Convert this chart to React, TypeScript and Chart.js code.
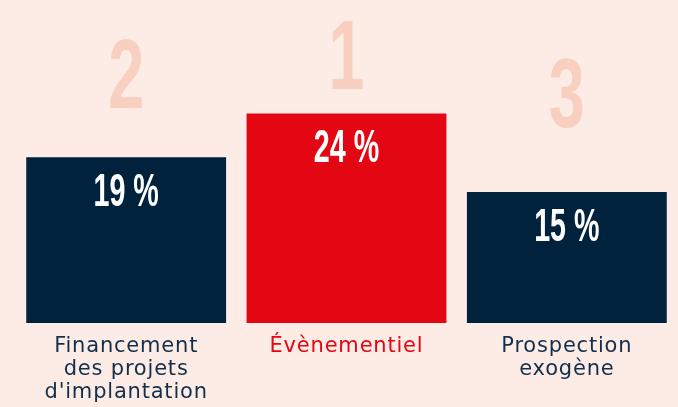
import React, { useEffect, useRef } from "react";
import { Chart, registerables } from "chart.js";

Chart.register(...registerables);

const categories: (string | string[])[] = [
  ["Financement", "des projets", "d'implantation"],
  "Évènementiel",
  ["Prospection", "exogène"],
];
const values: number[] = [19, 24, 15];
const ranks: number[] = [2, 1, 3];
const barColors: string[] = ["#00223c", "#e30613", "#00223c"];
const labelColors: string[] = ["#12304b", "#e30613", "#12304b"];

const BG = "#fdebe5";
const RANK_COLOR = "#f9cfbf";

const spacingPlugin = {
  id: "letterSpacing",
  beforeDraw(chart: any) {
    (chart.ctx as any).letterSpacing = "0.8px";
  },
  afterDraw(chart: any) {
    (chart.ctx as any).letterSpacing = "0px";
  },
};

const overlayPlugin = {
  id: "overlayLabels",
  afterDatasetsDraw(chart: any) {
    const { ctx, chartArea } = chart;
    const meta = chart.getDatasetMeta(0);
    meta.data.forEach((bar: any, i: number) => {
      ctx.save();
      (ctx as any).letterSpacing = "0px";
      ctx.translate(bar.x, bar.y + 48.5);
      ctx.scale(0.61, 1);
      ctx.font = "bold 47px 'Liberation Sans'";
      ctx.fillStyle = "#ffffff";
      ctx.textAlign = "center";
      ctx.textBaseline = "alphabetic";
      ctx.fillText(values[i] + " %", 0, 0);
      ctx.restore();

      ctx.save();
      (ctx as any).letterSpacing = "0px";
      ctx.translate(bar.x, chartArea.top + 89 + (ranks[i] - 1) * 19);
      ctx.scale(0.66, 1);
      ctx.font = "bold 98px 'Liberation Sans'";
      ctx.fillStyle = RANK_COLOR;
      ctx.textAlign = "center";
      ctx.textBaseline = "alphabetic";
      ctx.fillText(String(ranks[i]), 0, 0);
      ctx.restore();
    });
  },
};

export default function App() {
  const canvasRef = useRef<HTMLCanvasElement | null>(null);

  useEffect(() => {
    const canvas = canvasRef.current;
    if (!canvas) return;
    const chart = new Chart(canvas, {
      type: "bar",
      data: {
        labels: categories,
        datasets: [
          {
            data: values,
            backgroundColor: barColors,
            borderWidth: 0,
            barPercentage: 0.907,
            categoryPercentage: 1,
          },
        ],
      },
      options: {
        responsive: false,
        animation: false,
        events: [],
        layout: { padding: { left: 16, right: 1, top: 0, bottom: 2 } },
        plugins: {
          legend: { display: false },
          tooltip: { enabled: false },
        },
        scales: {
          x: {
            grid: { display: false, drawTicks: false },
            border: { display: false },
            afterFit: (scale: any) => {
              scale.height = 82;
            },
            ticks: {
              padding: 12,
              maxRotation: 0,
              autoSkip: false,
              font: { family: "'DejaVu Sans'", size: 21, lineHeight: 1.095 },
              color: (c: any) => labelColors[c.index] ?? labelColors[0],
            },
          },
          y: {
            display: false,
            min: 0,
            max: 37,
          },
        },
      },
      plugins: [spacingPlugin, overlayPlugin],
    });
    return () => chart.destroy();
  }, []);

  return (
    <div
      style={{
        position: "fixed",
        left: 0,
        top: 0,
        width: 678,
        height: 407,
        background: BG,
      }}
    >
      <canvas ref={canvasRef} width={678} height={407} style={{ display: "block" }} />
    </div>
  );
}
